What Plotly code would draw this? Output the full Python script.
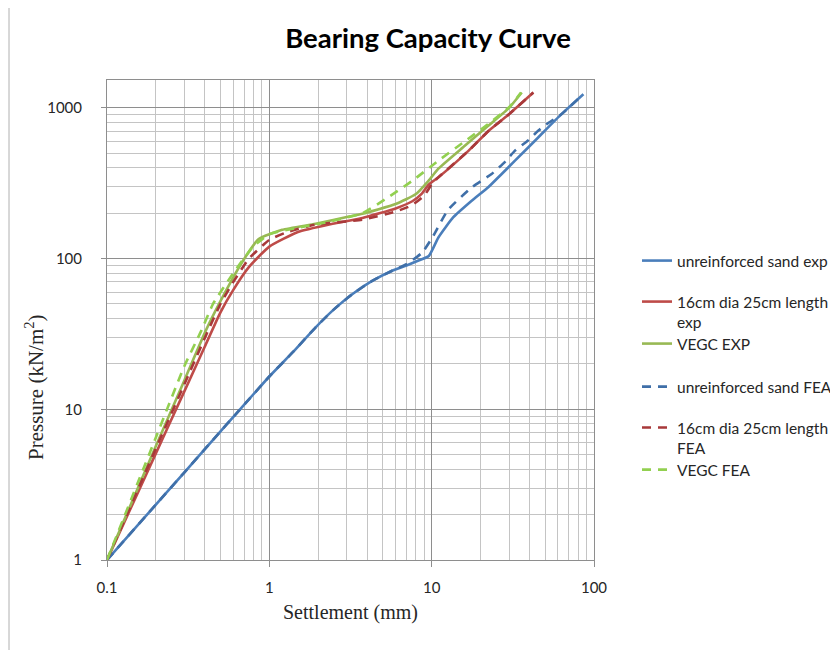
import plotly.graph_objects as go
import math

# ---------------- data ----------------
blue_exp_x = [0.1, 0.2, 0.3, 0.45, 0.65, 1.0, 1.4, 1.93, 2.5, 3.24, 4.3, 5.71, 7.0, 8.3, 9.6, 11.0, 13.6, 17.5, 22.3, 27.0, 32.6, 45.3, 63.0, 86.0]
blue_exp_y = [1, 2.33, 3.82, 6.27, 9.8, 16.5, 24, 35, 46, 58, 71, 83, 90, 97, 104, 138, 188, 240, 297, 364, 446, 636, 908, 1232]

blue_fea_x = [0.1, 0.2, 0.3, 0.45, 0.65, 1.0, 1.4, 1.93, 2.5, 3.24, 4.3, 5.71, 7.0, 8.7, 10.1, 12.6, 17.7, 23.4, 28.4, 32.6, 39.4, 45.3, 52.0, 63.0, 86.0]
blue_fea_y = [1, 2.33, 3.82, 6.27, 9.8, 16.5, 24, 35, 46, 58, 71, 83, 92, 109, 138, 210, 297, 364, 440, 520, 610, 704, 790, 908, 1232]

red_exp_x = [0.1, 0.2, 0.3, 0.4, 0.5, 0.6, 0.75, 1.0, 1.5, 2.45, 3.74, 6.0, 7.6, 8.7, 9.6, 11.0, 16.9, 22.3, 29.7, 42.3]
red_exp_y = [1, 5.1, 13.2, 26, 44, 62, 88, 120, 150, 170, 186, 215, 240, 270, 310, 346, 520, 700, 900, 1263]

red_fea_x = [0.1, 0.2, 0.3, 0.41, 0.5, 0.6, 0.75, 1.0, 1.27, 1.93, 3.74, 6.0, 7.5, 9.0, 10.0, 11.0, 16.9, 22.3, 29.7, 42.3]
red_fea_y = [1, 5.5, 14.7, 31.5, 50, 70, 100, 133, 149, 168, 181, 205, 225, 262, 310, 346, 520, 700, 900, 1263]

green_exp_x = [0.1, 0.2, 0.3, 0.41, 0.54, 0.69, 0.86, 1.2, 1.93, 3.1, 3.74, 6.0, 8.0, 9.6, 11.0, 16.0, 22.3, 30.0, 35.9]
green_exp_y = [1, 5.7, 15.6, 34, 61, 97, 135, 155, 170, 190, 198, 230, 268, 330, 395, 560, 760, 1000, 1263]

green_fea_x = [0.1, 0.2, 0.3, 0.38, 0.45, 0.595, 0.79, 1.0, 1.5, 2.3, 3.74, 5.4, 7.6, 11.0, 16.0, 22.3, 30.0, 35.5]
green_fea_y = [1, 6.5, 19.4, 33, 50, 79, 119, 145, 160, 175, 200, 255, 328, 446, 600, 780, 1010, 1263]

series_names = [
    "unreinforced sand exp",
    "16cm dia 25cm length<br>exp",
    "VEGC EXP",
    "unreinforced sand FEA",
    "16cm dia 25cm length<br>FEA",
    "VEGC FEA",
]

x_tick_vals = [0.1, 1, 10, 100]
x_tick_text = ["0.1", "1", "10", "100"]
y_tick_vals = [1, 10, 100, 1000]
y_tick_text = ["1", "10", "100", "1000"]

# minor gridline positions (2..9 within each decade)
x_minor = [m * 10 ** e for e in (-1, 0, 1) for m in range(2, 10)]
y_minor = [m * 10 ** e for e in (0, 1, 2, 3) for m in range(2, 10)]

# ---------------- figure ----------------
W, H = 838, 650
OFF = 8  # page body margin offset
ML, MT = 107 - OFF, 80 - OFF
MR, MB = W - (594 - OFF), H - (560 - OFF)
PW, PH = W - ML - MR, H - MT - MB


def px_x(xp):
    # page pixel -> paper fraction
    return (xp - OFF - ML) / PW


def px_y(yp):
    return (H - MB - (yp - OFF)) / PH


colors = ["#4A7EBB", "#BE4B48", "#98B954", "#3F6FA8", "#A8393A", "#92D050"]
dashes = ["solid", "solid", "solid", "9px,7px", "9px,7px", "9px,7px"]
xs = [blue_exp_x, red_exp_x, green_exp_x, blue_fea_x, red_fea_x, green_fea_x]
ys = [blue_exp_y, red_exp_y, green_exp_y, blue_fea_y, red_fea_y, green_fea_y]
legend_ids = ["legend", "legend2", "legend3", "legend4", "legend5", "legend6"]
legend_centres = [261, 312, 344, 387, 438, 470]

fig = go.Figure()
for i in range(6):
    fig.add_trace(go.Scatter(
        x=xs[i], y=ys[i], mode="lines", name=series_names[i],
        line=dict(color=colors[i], width=2.6, dash=dashes[i], shape="spline", smoothing=0.5),
        legend=legend_ids[i],
    ))

font_sans = "Lato, 'Open Sans', sans-serif"
font_serif = "'Liberation Serif', 'DejaVu Serif', serif"

layout_legends = {}
for i, lid in enumerate(legend_ids):
    layout_legends[lid] = dict(
        xref="container", yref="container",
        x=(637 - OFF) / W, y=1 - (legend_centres[i] - OFF) / H,
        xanchor="left", yanchor="middle",
        valign="top",
        bgcolor="rgba(0,0,0,0)",
        font=dict(family=font_sans, size=15.5, color="#262626"),
        itemwidth=30,
    )

grid_major = "#8E8E8E"
grid_minor = "#C4C4C4"

fig.update_layout(
    width=W, height=H,
    margin=dict(l=ML, r=MR, t=MT, b=MB),
    paper_bgcolor="white", plot_bgcolor="white",
    showlegend=True,
    **layout_legends,
    xaxis=dict(
        type="log", range=[-1, 2],
        tickmode="array", tickvals=x_tick_vals, ticktext=x_tick_text,
        showgrid=True, gridcolor=grid_major, gridwidth=1,
        minor=dict(tickmode="array", tickvals=x_minor, showgrid=True,
                   gridcolor=grid_minor, gridwidth=1, ticks=""),
        ticks="outside", ticklen=6, tickcolor=grid_major,
        showline=True, linecolor=grid_major, linewidth=1, mirror=True,
        zeroline=False,
        tickfont=dict(family=font_sans, size=15, color="#262626"),
        ticklabelstandoff=8,
    ),
    yaxis=dict(
        type="log", range=[0, math.log10(1530)],
        tickmode="array", tickvals=y_tick_vals, ticktext=y_tick_text,
        showgrid=True, gridcolor=grid_major, gridwidth=1,
        minor=dict(tickmode="array", tickvals=y_minor, showgrid=True,
                   gridcolor=grid_minor, gridwidth=1, ticks=""),
        ticks="outside", ticklen=5, tickcolor=grid_major,
        showline=True, linecolor=grid_major, linewidth=1, mirror=True,
        zeroline=False,
        tickfont=dict(family=font_sans, size=15, color="#262626"),
        ticklabelstandoff=16,
    ),
    title=dict(
        text="<b>Bearing Capacity Curve</b>",
        x=(428 - OFF) / W, xanchor="center", xref="container",
        y=1 - (38 - OFF) / H, yanchor="middle", yref="container",
        font=dict(family=font_sans, size=27.5, color="#000000"),
    ),
    annotations=[
        dict(text="Settlement (mm)", xref="paper", yref="paper",
             x=px_x(350), y=px_y(612), xanchor="center", yanchor="middle",
             showarrow=False, font=dict(family=font_serif, size=20, color="#262626")),
        dict(text="Pressure (kN/m<sup>2</sup>)", xref="paper", yref="paper",
             x=px_x(34), y=px_y(387), xanchor="center", yanchor="middle",
             textangle=-90, showarrow=False,
             font=dict(family=font_serif, size=21, color="#262626")),
    ],
    shapes=[
        dict(type="line", xref="paper", yref="paper",
             x0=px_x(9), x1=px_x(9), y0=px_y(H + OFF), y1=px_y(OFF),
             line=dict(color="#B0B0B0", width=1)),
    ],
)

fig.write_html("out.html")
